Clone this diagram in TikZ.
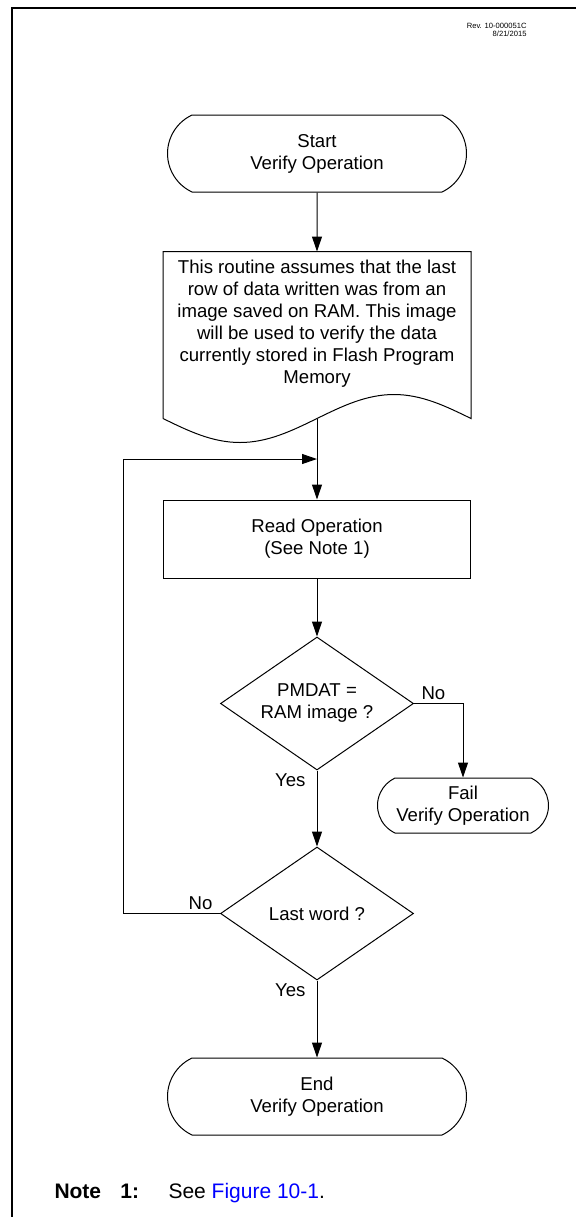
\documentclass[tikz,border=0pt]{standalone}
\usepackage{fontspec}
\setmainfont{Liberation Sans}
\usepackage{tikz}
\usetikzlibrary{arrows.meta,positioning,calc,shapes.geometric,shapes.misc}
\definecolor{linkblue}{RGB}{0,0,255}

\begin{document}
\begin{tikzpicture}[
  x=0.5pt,y=-0.5pt,
  font=\fontsize{9.3}{11}\selectfont,
  line width=0.5pt,
  term/.style={draw,rounded rectangle,rounded rectangle arc length=130,minimum width=153.5pt,minimum height=38.5pt,align=center,inner sep=2pt},
  docbox/.style={minimum width=153.5pt,minimum height=72pt,align=center,inner sep=2pt},
  proc/.style={draw,minimum width=153.5pt,minimum height=39pt,align=center,inner sep=2pt},
  decide/.style={draw,diamond,aspect=1.45,minimum width=96.5pt,minimum height=66.5pt,align=center,inner sep=0pt},
  lbl/.style={inner sep=1.5pt},
  >={Triangle[length=7.5pt,width=5pt]}
]
\useasboundingbox (0,0) rectangle (576,1217);
\draw[line width=1pt] (12,1217) -- (12,8) -- (576,8);
\node[anchor=north east,align=right,inner sep=0pt,font=\fontsize{3.8}{4}\selectfont] (rev) at (527,23) {Rev. 10-000051C\\8/21/2015};

\node[term] (start) at (317,153.5) {Start\\Verify Operation};
\node[docbox,below=29.5pt of start] (doc) {This routine assumes that the last\\row of data written was from an\\image saved on RAM. This image\\will be used to verify the data\\currently stored in Flash Program\\Memory};
\coordinate (docsw) at ($(doc.south west)+(0,-11pt)$);
\coordinate (docse) at ($(doc.south east)+(0,-11pt)$);
\coordinate (docs) at ($(doc.south)+(0,-11pt)$);
\draw (docsw) -- (doc.north west) -- (doc.north east) -- (docse)
  sin ($(docse)!0.25!(docsw)+(0,12pt)$) cos (docs)
  sin ($(docse)!0.75!(docsw)+(0,-12pt)$) cos (docsw);

\node[proc,below=40.5pt of docs] (read) {Read Operation\\(See Note 1)};
\coordinate (loopin) at ($(docs)!0.5!(read.north)$);
\node[decide,below=29pt of read] (dec1) {PMDAT =\\RAM image ?};
\node[term,minimum width=89.5pt,minimum height=27.5pt,below=37pt of dec1.east,xshift=24.5pt] (fail) {Fail\\Verify Operation};
\node[decide,below=38pt of dec1] (dec2) {Last word ?};
\node[term,below=38.5pt of dec2] (end) {End\\Verify Operation};

\node[anchor=west,inner sep=0pt,font=\fontsize{10.5}{12}\selectfont] (note) at (54,1193) {\makebox[33pt][l]{\textbf{Note}}\makebox[24pt][l]{\textbf{1:}}See \textcolor{linkblue}{Figure 10-1}.};

\draw[->] (start) -- (doc);
\draw[->] (docs) -- (read);
\draw[->] (read) -- (dec1);
\draw[->] (dec1.east) node[lbl,anchor=south west,xshift=2pt] (no1) {No} -| (fail.north);
\draw[->] (dec1.south) node[lbl,anchor=north east,xshift=-4pt] (yes1) {Yes} -- (dec2.north);
\draw[->] (dec2.west) node[lbl,anchor=south east,xshift=-2pt] (no2) {No} -- ++(-48.5pt,0) |- (loopin);
\draw[->] (dec2.south) node[lbl,anchor=north east,xshift=-4pt] (yes2) {Yes} -- (end.north);
\end{tikzpicture}
\end{document}
